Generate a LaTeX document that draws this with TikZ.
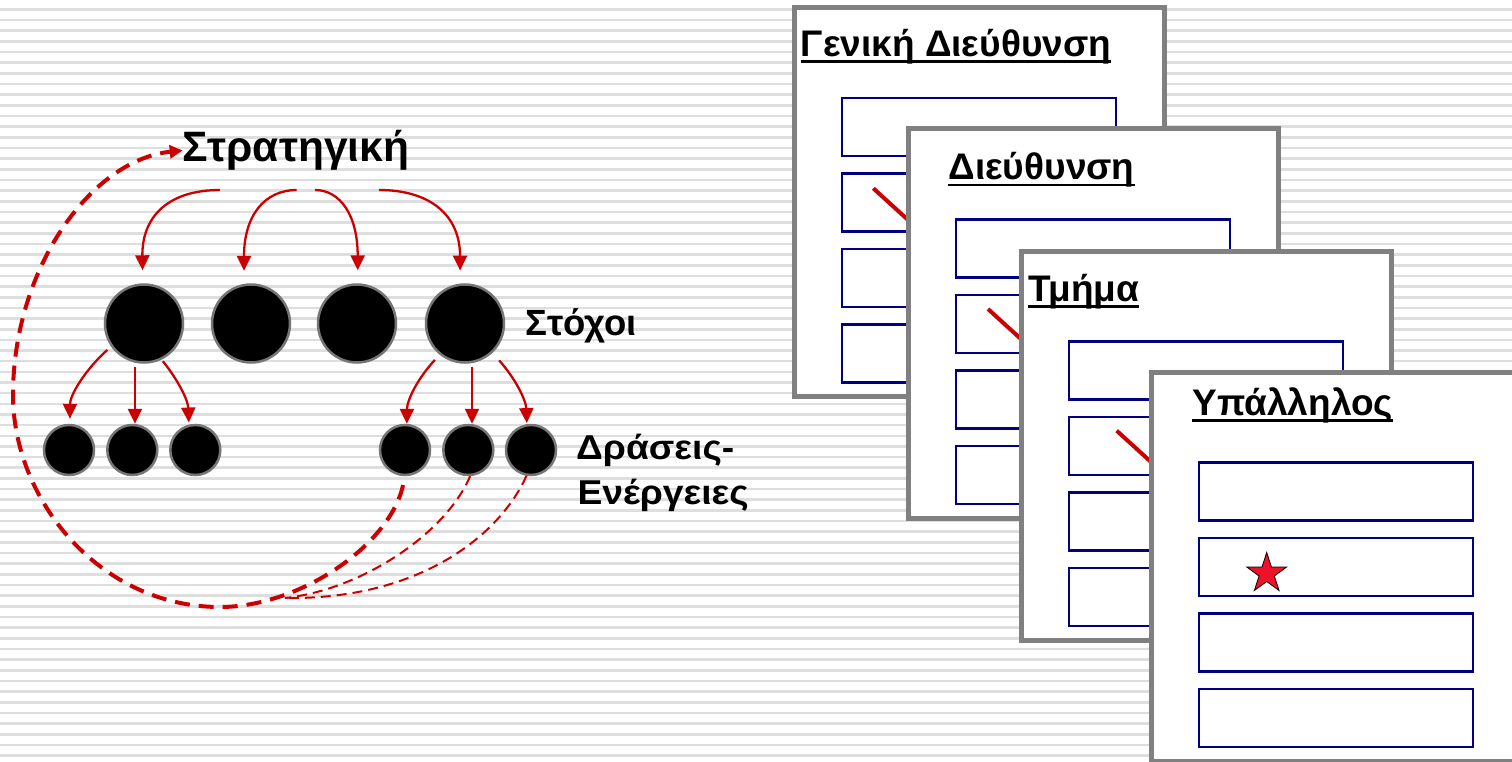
\documentclass[tikz,border=0pt]{standalone}
\usepackage{fontspec}
\setmainfont{Liberation Sans}
\newfontfamily\wideface{Liberation Sans}[FakeStretch=1.08]
\usetikzlibrary{arrows.meta,shapes.geometric}
\definecolor{stripecol}{RGB}{222,222,222}
\definecolor{arrred}{RGB}{204,0,0}
\definecolor{navyc}{RGB}{0,0,128}
\definecolor{cardgray}{RGB}{128,128,128}
\definecolor{circgray}{RGB}{118,118,118}
\definecolor{starred}{RGB}{240,16,40}
\newcommand{\drawcardbox}[2]{%
  \draw[cardframe] (#1,#2) rectangle ++(370.5,389);
  \foreach \k in {0,...,3}
    \draw[slot] ({#1+48},{#2+90.5+75.5*\k}) rectangle ++(274,58);
}
\begin{document}
\begin{tikzpicture}[x=1pt,y=-1pt,
  stripeline/.style={draw=stripecol, line width=2.6pt},
  arr/.style={draw=arrred, line width=2.3pt, -{Triangle[length=15pt,width=14pt]}},
  dasharr/.style={draw=arrred, line width=4pt, dash pattern=on 15pt off 9pt, -{Triangle[length=13pt,width=13pt]}},
  thindash/.style={draw=arrred, line width=2pt, dash pattern=on 10pt off 6pt},
  bigc/.style={circle, fill=black, draw=circgray, line width=2.5pt, minimum size=78pt, inner sep=0pt},
  smallc/.style={circle, fill=black, draw=circgray, line width=2.5pt, minimum size=50pt, inner sep=0pt},
  lbl/.style={inner sep=0pt, anchor=base west, font=\bfseries\fontsize{37}{42}\selectfont},
  cardframe/.style={draw=cardgray, fill=white, line width=5pt},
  slot/.style={draw=navyc, fill=white, line width=2.2pt},
  slash/.style={draw=arrred, line width=4pt},
  uline/.style={draw=black, line width=2.6pt}
]
\useasboundingbox (0,0) rectangle (1512,762);
\clip (0,0) rectangle (1512,762);
\fill[white] (0,0) rectangle (1512,762);
\foreach \i in {0,...,71}
  \draw[stripeline] (0,{9.4+10.66*\i}) -- (1512,{9.4+10.66*\i});

% ---------- left diagram ----------
\node[lbl, font=\bfseries\fontsize{42.5}{50}\selectfont] (strat) at (182.7,161.7) {Στρατηγική};

\node[bigc] (g1) at (144,323.5) {};
\node[bigc] (g2) at (251,323.5) {};
\node[bigc] (g3) at (357,323.5) {};
\node[bigc] (g4) at (465,323.5) {};

\node[smallc] (s1) at (69,450) {};
\node[smallc] (s2) at (132.3,450) {};
\node[smallc] (s3) at (195.3,450) {};
\node[smallc] (s4) at (405,450) {};
\node[smallc] (s5) at (468.3,450) {};
\node[smallc] (s6) at (531,450) {};

\node[lbl, font=\bfseries\fontsize{36.5}{42}\selectfont] (goals) at (525.7,335) {Στόχοι};
\node[lbl, font=\wideface\bfseries\fontsize{34.5}{40}\selectfont] (act1) at (576,459.3) {Δράσεις-};
\node[lbl, font=\wideface\bfseries\fontsize{34.5}{40}\selectfont] (act2) at (577.3,504) {Ενέργειες};

\coordinate (sa) at (220,190);
\coordinate (sb) at (296.7,190);
\coordinate (sc) at (315,190);
\coordinate (sd) at (379,190);
\draw[arr, shorten >=13pt] (sa) .. controls (170,190) and (142,215) .. (g1.92);
\draw[arr, shorten >=13pt] (sb) .. controls (265,190) and (244,215) .. (g2.100);
\draw[arr, shorten >=13pt] (sc) .. controls (340,190) and (357.7,215) .. (g3.89);
\draw[arr, shorten >=13pt] (sd) .. controls (430,190) and (460,215) .. (g4.97);

\draw[arr, shorten <=5pt, shorten >=5pt] (g1.215) .. controls (85,370) and (70,395) .. (s1.88);
\draw[arr, shorten <=4pt] (g1.257) -- (g1.257 |- s2.north);
\draw[arr, shorten <=2pt, shorten >=2pt] (g1.-64) .. controls (178,380) and (188,400) .. (s3.104);

\draw[arr, shorten <=7pt] (g4.231) .. controls (418,378) and (407,400) .. (s4.86);
\draw[arr, shorten <=4pt] (g4.-80) -- (g4.-80 |- s5.north);
\draw[arr, shorten <=10pt, shorten >=1pt] (g4.-47) .. controls (515,378) and (526,400) .. (s6.99);

\coordinate (merge) at (285,598);
\draw[dasharr, shorten <=9pt] (s4.south) .. controls (390,545) and (300,607) .. (220,607)
   .. controls (100,607) and (13,500) .. (13,395)
   .. controls (13,270) and (90,160) .. (strat.west);
\draw[thindash] (s5.-86) .. controls (445,535) and (360,590) .. (merge);
\draw[thindash] (s6.-100) .. controls (500,535) and (420,600) .. (merge);

% ---------- cards ----------
\drawcardbox{794}{7.5}
\draw[slash] (873.3,188.3) -- ++(45,41);
\node[lbl] (t1) at (800.7,56.7) {Γενική Διεύθυνση};
\draw[uline] ([yshift=-5pt]t1.base west) -- ([yshift=-5pt]t1.base east);

\drawcardbox{908}{129}
\draw[slash] (988,309) -- ++(45,41);
\node[lbl] (t2) at (948.3,180) {Διεύθυνση};
\draw[uline] ([yshift=-5pt]t2.base west) -- ([yshift=-5pt]t2.base east);

\drawcardbox{1021}{251}
\draw[slash] (1116.7,430.7) -- ++(45,41);
\node[lbl] (t3) at (1028.3,301.7) {Τμήμα};
\draw[uline] ([yshift=-5pt]t3.base west) -- ([yshift=-5pt]t3.base east);

\drawcardbox{1151}{372}
\node[lbl] (t4) at (1192.3,415) {Υπάλληλος};
\draw[uline] ([yshift=-5.5pt]t4.base west) -- ([yshift=-5.5pt]t4.base east);
\node[star, star points=5, star point ratio=2.618, minimum size=42pt, inner sep=0pt,
      fill=starred, draw=black, line width=0.8pt] (star1) at (1266.7,573.5) {};
\end{tikzpicture}
\end{document}
